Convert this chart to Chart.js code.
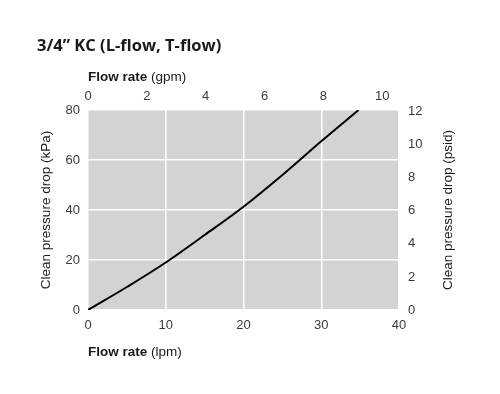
<!DOCTYPE html>
<html>
<head>
<meta charset="utf-8">
<script src="https://cdn.jsdelivr.net/npm/chart.js@4.4.1/dist/chart.umd.min.js"></script>
<style>
  html, body { margin: 0; padding: 0; background: #fff; }
  #wrap { width: 500px; height: 394px; position: relative; }
</style>
</head>
<body>
<div id="wrap"><canvas id="chart" width="500" height="394"></canvas></div>
<script>
// flow in lpm, clean pressure drop in kPa
const flowLpm = [0, 5, 10, 15, 20, 25, 30, 34.8];
const dropKpa = [0, 9.2, 19, 30, 41.3, 54, 67.5, 80];

const lpmTicks = [0, 10, 20, 30, 40];
const gpmTicks = [0, 2, 4, 6, 8, 10];
const kpaTicks = [0, 20, 40, 60, 80];
const psiTicks = [0, 2, 4, 6, 8, 10, 12];

const chartTitle = '3/4\u201D KC (L-flow, T-flow)';
const LPM_PER_GPM = 3.785;

const tickFont = { family: 'Liberation Sans', size: 13 };
const tickColor = '#3a3a3a';

function fixTicks(list) {
    return function (scale) {
        scale.ticks = list.map(v => ({ value: v }));
    };
}

function drawParts(ctx, parts, x, y, align) {
    let total = 0;
    parts.forEach(p => {
        ctx.font = (p.bold ? 'bold ' : '') + '13.5px "Liberation Sans"';
        p.w = ctx.measureText(p.text).width;
        total += p.w;
    });
    let cx = align === 'center' ? x - total / 2 : x;
    parts.forEach(p => {
        ctx.font = (p.bold ? 'bold ' : '') + '13.5px "Liberation Sans"';
        ctx.fillText(p.text, cx, y);
        cx += p.w;
    });
}

const labelsPlugin = {
    id: 'labels',
    beforeDraw(chart) {
        const a = chart.chartArea;
        const ctx = chart.ctx;
        ctx.save();
        ctx.fillStyle = '#d3d3d4';
        ctx.fillRect(a.left, a.top, a.right - a.left, a.bottom - a.top);
        ctx.restore();
    },
    afterDraw(chart) {
        const a = chart.chartArea;
        const ctx = chart.ctx;
        ctx.save();
        ctx.fillStyle = '#1a1a1a';
        ctx.textBaseline = 'alphabetic';
        ctx.textAlign = 'left';
        ctx.font = 'bold 16.5px "Open Sans"';
        ctx.fillText(chartTitle, 37, 51);

        ctx.textBaseline = 'middle';
        drawParts(ctx, [{ text: 'Flow rate ', bold: true }, { text: '(gpm)' }], a.left, 77, 'left');
        drawParts(ctx, [{ text: 'Flow rate ', bold: true }, { text: '(lpm)' }], a.left, 352, 'left');

        const mid = (a.top + a.bottom) / 2;
        ctx.save();
        ctx.translate(46, mid);
        ctx.rotate(-Math.PI / 2);
        drawParts(ctx, [{ text: 'Clean pressure drop ', bold: false }, { text: '(kPa)' }], 0, 0, 'center');
        ctx.restore();

        ctx.save();
        ctx.translate(448, mid);
        ctx.rotate(-Math.PI / 2);
        drawParts(ctx, [{ text: 'Clean pressure drop ', bold: false }, { text: '(psid)' }], 0, 0, 'center');
        ctx.restore();
        ctx.restore();
    }
};

const points = flowLpm.map((x, i) => ({ x: x, y: dropKpa[i] }));

let ctx = document.getElementById('chart').getContext('2d');
let chart = new Chart(ctx, {
    type: 'scatter',
    data: {
        datasets: [{
            data: points,
            showLine: true,
            borderColor: '#000',
            borderWidth: 2,
            pointRadius: 0,
            tension: 0.35,
            xAxisID: 'x',
            yAxisID: 'y'
        }]
    },
    options: {
        responsive: false,
        animation: false,
        layout: { padding: 0 },
        plugins: {
            legend: { display: false },
            tooltip: { enabled: false }
        },
        scales: {
            x: {
                type: 'linear', position: 'bottom', min: 0, max: 40,
                afterBuildTicks: fixTicks(lpmTicks),
                afterFit(s) { s.height = 84; },
                grid: { color: '#fff', lineWidth: 1.5, drawTicks: false },
                border: { display: false },
                ticks: { padding: 8, font: tickFont, color: tickColor, maxRotation: 0 }
            },
            x2: {
                type: 'linear', position: 'top', min: 0, max: 40 / LPM_PER_GPM,
                afterBuildTicks: fixTicks(gpmTicks),
                afterFit(s) { s.height = 110; },
                grid: { display: false, drawTicks: false },
                border: { display: false },
                ticks: { padding: 6, font: tickFont, color: tickColor, maxRotation: 0 }
            },
            y: {
                type: 'linear', position: 'left', min: 0, max: 80,
                afterBuildTicks: fixTicks(kpaTicks),
                afterFit(s) { s.width = 88; },
                grid: { color: '#fff', lineWidth: 1.5, drawTicks: false },
                border: { display: false },
                ticks: { padding: 8, font: tickFont, color: tickColor }
            },
            y2: {
                type: 'linear', position: 'right', min: 0, max: 12.1,
                afterBuildTicks: fixTicks(psiTicks),
                afterFit(s) { s.width = 101; },
                grid: { display: false, drawTicks: false },
                border: { display: false },
                ticks: { padding: 9, font: tickFont, color: tickColor }
            }
        }
    },
    plugins: [labelsPlugin]
});
</script>
</body>
</html>
